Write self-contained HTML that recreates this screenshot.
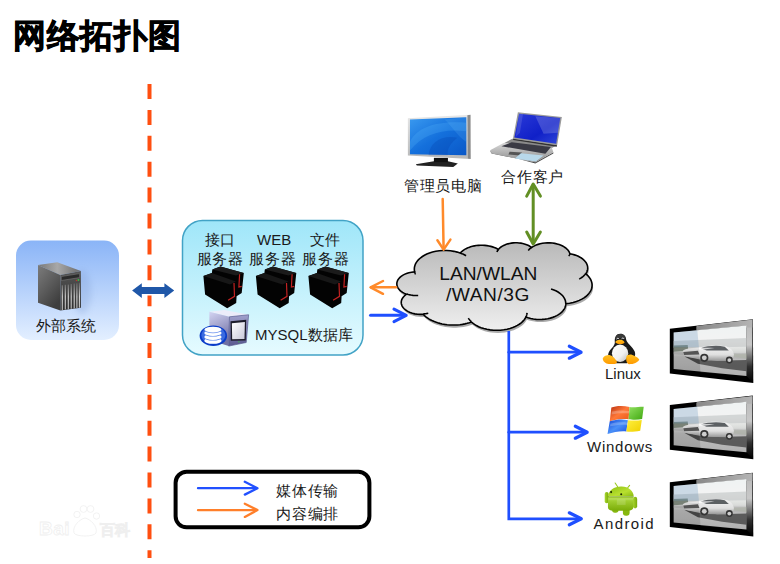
<!DOCTYPE html>
<html><head><meta charset="utf-8">
<style>
html,body{margin:0;padding:0;background:#fff;}
body{width:780px;height:564px;position:relative;overflow:hidden;font-family:"Liberation Sans",sans-serif;}
.t{position:absolute;white-space:nowrap;color:#1a1a1a;line-height:1;}
svg{position:absolute;left:0;top:0;}
</style></head><body>
<svg width="780" height="564" viewBox="0 0 780 564">
<defs>
<linearGradient id="gExt" x1="0" y1="0" x2="0" y2="1"><stop offset="0" stop-color="#8ab4f7"/><stop offset="1" stop-color="#e3efff"/></linearGradient>
<linearGradient id="gSrv" x1="0" y1="0" x2="0" y2="1"><stop offset="0" stop-color="#9fe6f9"/><stop offset="1" stop-color="#e6fbff"/></linearGradient>
<linearGradient id="gCloud" x1="0" y1="0" x2="0" y2="1"><stop offset="0" stop-color="#b9b9b9"/><stop offset="1" stop-color="#efefef"/></linearGradient>
<linearGradient id="gSrvL" x1="0" y1="0" x2="0.6" y2="1"><stop offset="0" stop-color="#7c7c7c"/><stop offset="0.5" stop-color="#5e5e5e"/><stop offset="1" stop-color="#3e3e3e"/></linearGradient>
<linearGradient id="gSrvF" x1="0" y1="0" x2="0" y2="1"><stop offset="0" stop-color="#555"/><stop offset="1" stop-color="#2e2e2e"/></linearGradient>
<linearGradient id="gSrvTop" x1="0" y1="0" x2="1" y2="0"><stop offset="0" stop-color="#777"/><stop offset="0.45" stop-color="#a8a8a8"/><stop offset="1" stop-color="#6a6a6a"/></linearGradient>
<linearGradient id="gDbL" x1="0" y1="0" x2="0.3" y2="1"><stop offset="0" stop-color="#d4d4f2"/><stop offset="1" stop-color="#7070a4"/></linearGradient>
<linearGradient id="gDbF" x1="0" y1="0" x2="0" y2="1"><stop offset="0" stop-color="#a0a0cc"/><stop offset="1" stop-color="#5a5a90"/></linearGradient>
<linearGradient id="gDbS" x1="0" y1="0" x2="1" y2="1"><stop offset="0" stop-color="#fff"/><stop offset="1" stop-color="#c8c8d8"/></linearGradient>
<linearGradient id="gMonF" x1="0" y1="0" x2="0" y2="1"><stop offset="0" stop-color="#e8e8e8"/><stop offset="1" stop-color="#b8b8b8"/></linearGradient>
<linearGradient id="gMonS" x1="0" y1="0" x2="1" y2="1"><stop offset="0" stop-color="#3a9af0"/><stop offset="0.5" stop-color="#1470dc"/><stop offset="1" stop-color="#0a58c8"/></linearGradient>
<linearGradient id="gLapB" x1="0" y1="0" x2="0" y2="1"><stop offset="0" stop-color="#d8d8d8"/><stop offset="1" stop-color="#8a8a8a"/></linearGradient>
<linearGradient id="gLapS" x1="0" y1="0" x2="1" y2="1"><stop offset="0" stop-color="#2a3ad8"/><stop offset="0.6" stop-color="#1020c8"/><stop offset="1" stop-color="#3048d8"/></linearGradient>
<linearGradient id="gTvR" x1="0" y1="0" x2="0" y2="1"><stop offset="0" stop-color="#b8b8b8"/><stop offset="0.4" stop-color="#c8c8c8"/><stop offset="0.75" stop-color="#303030"/><stop offset="1" stop-color="#000"/></linearGradient>
<linearGradient id="gTvTop" x1="0" y1="0" x2="1" y2="0"><stop offset="0" stop-color="#888"/><stop offset="1" stop-color="#b4b4b4"/></linearGradient>
<linearGradient id="gCar" x1="0" y1="0" x2="0" y2="1"><stop offset="0" stop-color="#f4f4f4"/><stop offset="0.6" stop-color="#dcdcdc"/><stop offset="1" stop-color="#8a8a8a"/></linearGradient>
<linearGradient id="gTvS" x1="0" y1="0" x2="0" y2="1"><stop offset="0" stop-color="#eef2f2"/><stop offset="0.3" stop-color="#f2f2f2"/><stop offset="0.5" stop-color="#d8dad8"/><stop offset="0.62" stop-color="#b8b8b8"/><stop offset="1" stop-color="#a8a8a8"/></linearGradient>
<linearGradient id="gTuxB" x1="0" y1="0" x2="1" y2="1"><stop offset="0" stop-color="#fff"/><stop offset="0.6" stop-color="#f0f0f0"/><stop offset="1" stop-color="#b8b8b8"/></linearGradient>
<linearGradient id="gTuxY" x1="0" y1="0" x2="0" y2="1"><stop offset="0" stop-color="#ffc020"/><stop offset="1" stop-color="#ff9a00"/></linearGradient>
<linearGradient id="gWR" x1="0" y1="0" x2="1" y2="1"><stop offset="0" stop-color="#b83010"/><stop offset="0.5" stop-color="#ff7838"/><stop offset="1" stop-color="#e85a18"/></linearGradient>
<linearGradient id="gWG" x1="0" y1="0" x2="1" y2="1"><stop offset="0" stop-color="#90e060"/><stop offset="1" stop-color="#40a810"/></linearGradient>
<linearGradient id="gWB" x1="0" y1="0" x2="1" y2="1"><stop offset="0" stop-color="#1448d8"/><stop offset="0.5" stop-color="#4a90f8"/><stop offset="1" stop-color="#1850e0"/></linearGradient>
<linearGradient id="gWY" x1="0" y1="0" x2="1" y2="1"><stop offset="0" stop-color="#fff040"/><stop offset="1" stop-color="#f0d000"/></linearGradient>
<linearGradient id="gAnd" x1="0" y1="0" x2="1" y2="0"><stop offset="0" stop-color="#a8d830"/><stop offset="1" stop-color="#78a808"/></linearGradient>
<linearGradient id="gAndB" x1="0" y1="0" x2="0" y2="1"><stop offset="0" stop-color="#b0dc40"/><stop offset="1" stop-color="#7aac08"/></linearGradient>
<linearGradient id="gAndH" x1="0" y1="0" x2="1" y2="1"><stop offset="0" stop-color="#8cc010"/><stop offset="0.6" stop-color="#b8e030"/><stop offset="1" stop-color="#88b810"/></linearGradient>
<filter id="blur05" x="-10%" y="-10%" width="120%" height="120%"><feGaussianBlur stdDeviation="0.6"/></filter>
<linearGradient id="gVent" gradientUnits="userSpaceOnUse" x1="0" y1="283" x2="0" y2="310"><stop offset="0" stop-color="#666"/><stop offset="0.5" stop-color="#d8d8d8"/><stop offset="1" stop-color="#bbb"/></linearGradient>
<filter id="blur2" x="-50%" y="-50%" width="200%" height="200%"><feGaussianBlur stdDeviation="3"/></filter>
</defs>
<!-- watermark -->
<g fill="#fff" stroke="#efefef" stroke-width="0.8">
<text x="39" y="535" font-family="Liberation Sans" font-weight="bold" font-size="19" letter-spacing="0.5">Bai</text>
<circle cx="77" cy="514.5" r="3.2"/><circle cx="83.5" cy="509" r="3.4"/><circle cx="90.5" cy="509" r="3.4"/><circle cx="96.5" cy="516" r="3.2"/>
<path d="M74,533 C72,526 80,519 85,518 C90,519 98,526 96,533 C94,537 76,537 74,533 Z"/>
<text x="100" y="535" font-size="15" font-weight="bold">百科</text>
</g>
<!-- dashed line -->
<line x1="149.5" y1="84" x2="149.5" y2="558" stroke="#ff4f10" stroke-width="4" stroke-dasharray="15 10.9"/>
<!-- external box -->
<rect x="16" y="240.5" width="103" height="99.5" rx="15" fill="url(#gExt)"/>
<!-- external server -->
<ellipse cx="82" cy="292" rx="9" ry="22" fill="#6f8fc8" opacity="0.25" filter="url(#blur2)"/>
<polygon points="38,265 57.3,262.2 80.9,270.9 60.3,275" fill="url(#gSrvTop)"/>
<polygon points="38,265 60.3,275 60.3,310.6 38,302.7" fill="url(#gSrvL)"/>
<polygon points="60.3,275 80.9,270.9 80.9,307.7 60.3,310.6" fill="url(#gSrvF)"/>
<polygon points="61.3,276.5 79.6,273.6 79.6,277.6 61.3,280.5" fill="#2b2b2b" stroke="#777" stroke-width="0.6"/>
<circle cx="76.5" cy="280.5" r="0.8" fill="#c03030"/><circle cx="78.4" cy="280" r="0.9" fill="#30c040"/>
<g stroke="url(#gVent)" stroke-width="1.1">
<line x1="62.3" y1="285.2" x2="62.3" y2="310"/><line x1="65.3" y1="284.8" x2="65.3" y2="309.6"/><line x1="68.3" y1="284.4" x2="68.3" y2="309.2"/><line x1="71.2" y1="284" x2="71.2" y2="308.8"/><line x1="74.2" y1="283.6" x2="74.2" y2="308.4"/><line x1="76.9" y1="283.2" x2="76.9" y2="308"/><line x1="79.4" y1="282.8" x2="79.4" y2="307.7"/>
</g>
<!-- double arrow -->
<polygon points="132.1,290.4 141.8,283.3 141.8,286.9 164.4,286.9 164.4,283.3 174.2,290.4 164.4,298 164.4,294 141.8,294 141.8,298" fill="#1f57a8" stroke="#fff" stroke-width="3" paint-order="stroke"/>
<!-- server group box -->
<rect x="182.5" y="220.5" width="180.5" height="134.5" rx="20" fill="url(#gSrv)" stroke="#42a3c6" stroke-width="1.5"/>
<g transform="translate(200,264)">
<polygon points="3.4,11.9 11.9,8.9 12.3,5.5 20.4,2.6 43.8,8.9 41.7,28.9 36.6,32.3 36.2,39.1 27.2,44.3 5.1,30.6" fill="#030303"/>
<polygon points="12.3,5.5 20.4,2.6 43.8,8.9 36,11.5" fill="#1b1b1b"/>
<polygon points="3.4,11.9 11.9,8.9 36,17.5 30,20.5" fill="#171717"/>
<polyline points="39.6,10.2 38.9,23 41.7,22.3" fill="none" stroke="#c42222" stroke-width="1.2"/>
<polyline points="34,19.1 34.5,32.3 28.1,36.2" fill="none" stroke="#c42222" stroke-width="1.2"/>
</g>
<g transform="translate(252.5,264)">
<polygon points="3.4,11.9 11.9,8.9 12.3,5.5 20.4,2.6 43.8,8.9 41.7,28.9 36.6,32.3 36.2,39.1 27.2,44.3 5.1,30.6" fill="#030303"/>
<polygon points="12.3,5.5 20.4,2.6 43.8,8.9 36,11.5" fill="#1b1b1b"/>
<polygon points="3.4,11.9 11.9,8.9 36,17.5 30,20.5" fill="#171717"/>
<polyline points="39.6,10.2 38.9,23 41.7,22.3" fill="none" stroke="#c42222" stroke-width="1.2"/>
<polyline points="34,19.1 34.5,32.3 28.1,36.2" fill="none" stroke="#c42222" stroke-width="1.2"/>
</g>
<g transform="translate(305,264)">
<polygon points="3.4,11.9 11.9,8.9 12.3,5.5 20.4,2.6 43.8,8.9 41.7,28.9 36.6,32.3 36.2,39.1 27.2,44.3 5.1,30.6" fill="#030303"/>
<polygon points="12.3,5.5 20.4,2.6 43.8,8.9 36,11.5" fill="#1b1b1b"/>
<polygon points="3.4,11.9 11.9,8.9 36,17.5 30,20.5" fill="#171717"/>
<polyline points="39.6,10.2 38.9,23 41.7,22.3" fill="none" stroke="#c42222" stroke-width="1.2"/>
<polyline points="34,19.1 34.5,32.3 28.1,36.2" fill="none" stroke="#c42222" stroke-width="1.2"/>
</g>
<!-- mysql icon -->
<g transform="translate(195,305) scale(0.0798)">
<polygon points="180,85 370,62 672,122 432,148" fill="#ececfa"/>
<polygon points="180,85 432,148 422,515 180,440" fill="url(#gDbL)"/>
<polygon points="432,148 672,122 642,470 422,515" fill="url(#gDbF)" stroke="#55558a" stroke-width="8"/>
<polygon points="445,205 642,185 636,445 448,448" fill="#1c1c2a"/>
<polygon points="462,228 625,212 620,425 466,428" fill="url(#gDbS)"/>
<circle cx="550" cy="462" r="9" fill="#3c3"/>
<ellipse cx="230" cy="385" rx="172" ry="128" fill="#0a3cc8"/>
<ellipse cx="230" cy="380" rx="150" ry="108" fill="#3a6ae0"/>
<ellipse cx="225" cy="448" rx="108" ry="38" fill="#fff"/>
<ellipse cx="225" cy="408" rx="108" ry="38" fill="#4a7ae8"/>
<ellipse cx="225" cy="400" rx="108" ry="38" fill="#fff"/>
<ellipse cx="225" cy="358" rx="108" ry="38" fill="#4a7ae8"/>
<ellipse cx="225" cy="350" rx="108" ry="38" fill="#fff"/>
<ellipse cx="225" cy="316" rx="108" ry="38" fill="#6a90ee"/>
<ellipse cx="225" cy="308" rx="106" ry="36" fill="#fff"/>
</g>
<!-- monitor -->
<g transform="translate(402,110) scale(0.10633)">
<polygon points="130,510 300,482 432,482 525,503 482,535 140,522" fill="#222"/>
<polygon points="300,450 432,450 432,490 300,490" fill="#111"/>
<polygon points="55,78 640,45 645,460 55,428" fill="url(#gMonF)"/>
<polygon points="615,50 645,45 645,460 620,455" fill="#8a8a8a"/>
<polygon points="75,90 605,68 605,425 75,415" fill="url(#gMonS)"/>
<path d="M75,300 C150,150 350,100 605,120 L605,200 C400,170 200,220 75,380 Z" fill="#60c0ff" opacity="0.22"/>
<path d="M250,425 C260,300 380,230 520,260 C470,300 420,360 430,425 Z" fill="#003ca8" opacity="0.25"/>
<path d="M400,90 C470,150 520,250 605,300 L605,68 Z" fill="#80d0ff" opacity="0.15"/>
</g>
<!-- laptop -->
<g transform="translate(486,108) scale(0.1028)">
<polygon points="255,300 690,362 640,388 170,345" fill="#8a8a8a"/>
<polygon points="40,420 480,540 655,442 655,430 480,528 55,442" fill="#505050"/>
<polygon points="40,410 170,340 640,385 655,430 480,528 55,442" fill="url(#gLapB)"/>
<polygon points="150,372 250,334 632,380 578,445" fill="#3a3a44"/>
<polygon points="230,425 350,433 330,462 218,452" fill="#555"/>
<polygon points="340,440 560,462 485,520 280,492" fill="#b8d8ea"/>
<polygon points="310,42 738,88 692,362 262,298" fill="#9a9a9a"/>
<polygon points="262,298 692,362 688,378 265,312" fill="#333"/>
<polygon points="322,55 722,98 682,348 276,286" fill="url(#gLapS)"/>
<polygon points="480,80 722,98 700,240 560,250" fill="#fff" opacity="0.18"/>
<polygon points="322,55 360,58 330,240 290,280" fill="#fff" opacity="0.12"/>
</g>
<!-- cloud -->
<path d="M414.60 271.61 L414.40 270.37 L414.33 269.14 L414.39 267.91 L414.59 266.67 L414.92 265.43 L415.41 264.18 L416.06 262.91 L416.88 261.64 L417.90 260.35 L419.14 259.05 L420.63 257.76 L422.38 256.49 L424.43 255.25 L426.80 254.08 L429.49 253.00 L432.50 252.07 L435.80 251.31 L439.33 250.79 L443.00 250.52 L446.73 250.52 L450.41 250.80 L453.93 251.34 L457.22 252.10 L460.22 253.04 L460.91 252.29 L461.70 251.55 L462.60 250.81 L463.61 250.08 L464.74 249.36 L466.01 248.66 L467.40 248.00 L468.94 247.38 L470.61 246.81 L472.40 246.31 L474.32 245.89 L476.33 245.56 L478.41 245.34 L480.54 245.23 L482.69 245.24 L484.81 245.36 L486.89 245.60 L488.89 245.94 L490.79 246.37 L492.57 246.88 L494.22 247.45 L495.74 248.08 L497.12 248.75 L498.36 249.45 L498.96 248.78 L499.65 248.10 L500.44 247.43 L501.35 246.77 L502.39 246.12 L503.55 245.49 L504.85 244.90 L506.29 244.35 L507.86 243.86 L509.55 243.45 L511.35 243.12 L513.23 242.90 L515.16 242.80 L517.10 242.80 L519.03 242.93 L520.89 243.16 L522.68 243.50 L524.35 243.92 L525.91 244.42 L527.32 244.97 L528.61 245.57 L529.75 246.21 L530.77 246.86 L531.66 247.52 L532.96 246.67 L534.46 245.85 L536.16 245.07 L538.07 244.38 L540.18 243.78 L542.46 243.30 L544.89 242.98 L547.40 242.82 L549.93 242.84 L552.43 243.03 L554.83 243.39 L557.08 243.90 L559.14 244.52 L561.01 245.24 L562.66 246.02 L564.11 246.86 L565.37 247.72 L566.45 248.59 L567.36 249.47 L568.12 250.35 L568.76 251.22 L569.27 252.09 L569.66 252.94 L569.96 253.79 L572.32 254.27 L574.52 254.87 L576.52 255.56 L578.33 256.34 L579.94 257.17 L581.35 258.03 L582.59 258.92 L583.65 259.82 L584.56 260.72 L585.33 261.62 L585.97 262.51 L586.50 263.40 L586.93 264.28 L587.25 265.15 L587.49 266.01 L587.64 266.87 L587.71 267.73 L587.69 268.58 L587.60 269.44 L587.42 270.30 L587.15 271.17 L586.79 272.04 L586.33 272.92 L585.76 273.81 L587.32 275.18 L588.62 276.54 L589.67 277.90 L590.50 279.24 L591.14 280.58 L591.61 281.90 L591.92 283.20 L592.07 284.51 L592.07 285.81 L591.93 287.11 L591.63 288.42 L591.17 289.74 L590.54 291.07 L589.71 292.41 L588.67 293.77 L587.39 295.14 L585.85 296.50 L584.00 297.84 L581.82 299.15 L579.29 300.38 L576.40 301.50 L573.17 302.45 L569.62 303.19 L565.84 303.68 L565.78 304.65 L565.62 305.62 L565.36 306.60 L564.99 307.59 L564.50 308.59 L563.89 309.59 L563.14 310.60 L562.24 311.62 L561.17 312.64 L559.91 313.66 L558.45 314.65 L556.77 315.62 L554.86 316.53 L552.71 317.37 L550.34 318.11 L547.75 318.71 L544.99 319.15 L542.11 319.42 L539.17 319.48 L536.24 319.34 L533.40 319.01 L530.70 318.50 L528.19 317.84 L525.90 317.06 L525.24 318.25 L524.43 319.44 L523.44 320.64 L522.26 321.84 L520.87 323.05 L519.24 324.24 L517.35 325.40 L515.19 326.51 L512.75 327.53 L510.03 328.45 L507.04 329.22 L503.83 329.81 L500.46 330.18 L496.99 330.32 L493.52 330.22 L490.13 329.88 L486.89 329.32 L483.87 328.58 L481.10 327.68 L478.62 326.67 L476.42 325.57 L474.49 324.42 L472.82 323.23 L471.39 322.03 L469.35 322.72 L467.18 323.35 L464.89 323.89 L462.49 324.35 L459.99 324.70 L457.43 324.94 L454.83 325.06 L452.21 325.07 L449.60 324.95 L447.04 324.72 L444.54 324.37 L442.13 323.93 L439.83 323.39 L437.65 322.76 L435.61 322.07 L433.70 321.32 L431.93 320.53 L430.30 319.70 L428.81 318.83 L427.45 317.95 L426.22 317.06 L425.10 316.16 L424.10 315.25 L423.20 314.34 L420.36 314.42 L417.54 314.25 L414.85 313.84 L412.38 313.24 L410.17 312.48 L408.25 311.62 L406.63 310.68 L405.27 309.71 L404.15 308.73 L403.26 307.74 L402.55 306.76 L402.01 305.79 L401.62 304.83 L401.37 303.88 L401.25 302.94 L401.24 301.99 L401.36 301.05 L401.61 300.10 L401.99 299.14 L402.52 298.17 L403.21 297.19 L404.10 296.21 L405.20 295.22 L406.54 294.25 L404.44 293.37 L402.65 292.41 L401.17 291.41 L399.97 290.38 L399.00 289.35 L398.24 288.33 L397.67 287.32 L397.26 286.32 L396.99 285.34 L396.86 284.36 L396.85 283.38 L396.98 282.41 L397.24 281.42 L397.65 280.42 L398.22 279.42 L398.97 278.39 L399.93 277.37 L401.13 276.34 L402.60 275.33 L404.38 274.37 L406.47 273.49 L408.87 272.75 L411.56 272.20 L414.44 271.88 Z" fill="#666" opacity="0.55" transform="translate(1,2.6)" filter="url(#blur05)"/>
<path d="M414.60 271.61 L414.40 270.37 L414.33 269.14 L414.39 267.91 L414.59 266.67 L414.92 265.43 L415.41 264.18 L416.06 262.91 L416.88 261.64 L417.90 260.35 L419.14 259.05 L420.63 257.76 L422.38 256.49 L424.43 255.25 L426.80 254.08 L429.49 253.00 L432.50 252.07 L435.80 251.31 L439.33 250.79 L443.00 250.52 L446.73 250.52 L450.41 250.80 L453.93 251.34 L457.22 252.10 L460.22 253.04 L460.91 252.29 L461.70 251.55 L462.60 250.81 L463.61 250.08 L464.74 249.36 L466.01 248.66 L467.40 248.00 L468.94 247.38 L470.61 246.81 L472.40 246.31 L474.32 245.89 L476.33 245.56 L478.41 245.34 L480.54 245.23 L482.69 245.24 L484.81 245.36 L486.89 245.60 L488.89 245.94 L490.79 246.37 L492.57 246.88 L494.22 247.45 L495.74 248.08 L497.12 248.75 L498.36 249.45 L498.96 248.78 L499.65 248.10 L500.44 247.43 L501.35 246.77 L502.39 246.12 L503.55 245.49 L504.85 244.90 L506.29 244.35 L507.86 243.86 L509.55 243.45 L511.35 243.12 L513.23 242.90 L515.16 242.80 L517.10 242.80 L519.03 242.93 L520.89 243.16 L522.68 243.50 L524.35 243.92 L525.91 244.42 L527.32 244.97 L528.61 245.57 L529.75 246.21 L530.77 246.86 L531.66 247.52 L532.96 246.67 L534.46 245.85 L536.16 245.07 L538.07 244.38 L540.18 243.78 L542.46 243.30 L544.89 242.98 L547.40 242.82 L549.93 242.84 L552.43 243.03 L554.83 243.39 L557.08 243.90 L559.14 244.52 L561.01 245.24 L562.66 246.02 L564.11 246.86 L565.37 247.72 L566.45 248.59 L567.36 249.47 L568.12 250.35 L568.76 251.22 L569.27 252.09 L569.66 252.94 L569.96 253.79 L572.32 254.27 L574.52 254.87 L576.52 255.56 L578.33 256.34 L579.94 257.17 L581.35 258.03 L582.59 258.92 L583.65 259.82 L584.56 260.72 L585.33 261.62 L585.97 262.51 L586.50 263.40 L586.93 264.28 L587.25 265.15 L587.49 266.01 L587.64 266.87 L587.71 267.73 L587.69 268.58 L587.60 269.44 L587.42 270.30 L587.15 271.17 L586.79 272.04 L586.33 272.92 L585.76 273.81 L587.32 275.18 L588.62 276.54 L589.67 277.90 L590.50 279.24 L591.14 280.58 L591.61 281.90 L591.92 283.20 L592.07 284.51 L592.07 285.81 L591.93 287.11 L591.63 288.42 L591.17 289.74 L590.54 291.07 L589.71 292.41 L588.67 293.77 L587.39 295.14 L585.85 296.50 L584.00 297.84 L581.82 299.15 L579.29 300.38 L576.40 301.50 L573.17 302.45 L569.62 303.19 L565.84 303.68 L565.78 304.65 L565.62 305.62 L565.36 306.60 L564.99 307.59 L564.50 308.59 L563.89 309.59 L563.14 310.60 L562.24 311.62 L561.17 312.64 L559.91 313.66 L558.45 314.65 L556.77 315.62 L554.86 316.53 L552.71 317.37 L550.34 318.11 L547.75 318.71 L544.99 319.15 L542.11 319.42 L539.17 319.48 L536.24 319.34 L533.40 319.01 L530.70 318.50 L528.19 317.84 L525.90 317.06 L525.24 318.25 L524.43 319.44 L523.44 320.64 L522.26 321.84 L520.87 323.05 L519.24 324.24 L517.35 325.40 L515.19 326.51 L512.75 327.53 L510.03 328.45 L507.04 329.22 L503.83 329.81 L500.46 330.18 L496.99 330.32 L493.52 330.22 L490.13 329.88 L486.89 329.32 L483.87 328.58 L481.10 327.68 L478.62 326.67 L476.42 325.57 L474.49 324.42 L472.82 323.23 L471.39 322.03 L469.35 322.72 L467.18 323.35 L464.89 323.89 L462.49 324.35 L459.99 324.70 L457.43 324.94 L454.83 325.06 L452.21 325.07 L449.60 324.95 L447.04 324.72 L444.54 324.37 L442.13 323.93 L439.83 323.39 L437.65 322.76 L435.61 322.07 L433.70 321.32 L431.93 320.53 L430.30 319.70 L428.81 318.83 L427.45 317.95 L426.22 317.06 L425.10 316.16 L424.10 315.25 L423.20 314.34 L420.36 314.42 L417.54 314.25 L414.85 313.84 L412.38 313.24 L410.17 312.48 L408.25 311.62 L406.63 310.68 L405.27 309.71 L404.15 308.73 L403.26 307.74 L402.55 306.76 L402.01 305.79 L401.62 304.83 L401.37 303.88 L401.25 302.94 L401.24 301.99 L401.36 301.05 L401.61 300.10 L401.99 299.14 L402.52 298.17 L403.21 297.19 L404.10 296.21 L405.20 295.22 L406.54 294.25 L404.44 293.37 L402.65 292.41 L401.17 291.41 L399.97 290.38 L399.00 289.35 L398.24 288.33 L397.67 287.32 L397.26 286.32 L396.99 285.34 L396.86 284.36 L396.85 283.38 L396.98 282.41 L397.24 281.42 L397.65 280.42 L398.22 279.42 L398.97 278.39 L399.93 277.37 L401.13 276.34 L402.60 275.33 L404.38 274.37 L406.47 273.49 L408.87 272.75 L411.56 272.20 L414.44 271.88 Z" fill="url(#gCloud)" stroke="#000" stroke-width="1.6"/>
<path d="M418.18 295.52 L417.16 295.55 L416.12 295.55 L415.10 295.52 L414.08 295.45 L413.07 295.35 L412.08 295.22 L411.11 295.07 L410.18 294.88 L409.27 294.67 L408.39 294.43 L407.55 294.18 L406.75 293.91 M428.27 313.19 L427.88 313.28 L427.49 313.37 L427.08 313.45 L426.68 313.53 L426.27 313.60 L425.85 313.67 L425.43 313.73 L425.00 313.79 L424.57 313.84 L424.14 313.88 L423.71 313.92 L423.27 313.96 M471.38 321.68 L471.06 321.38 L470.76 321.09 L470.47 320.79 L470.19 320.50 L469.93 320.20 L469.67 319.91 L469.43 319.61 L469.19 319.32 L468.97 319.03 L468.76 318.73 L468.56 318.44 L468.37 318.15 M527.12 312.89 L527.07 313.21 L527.02 313.53 L526.95 313.85 L526.88 314.17 L526.79 314.49 L526.70 314.81 L526.59 315.13 L526.48 315.45 L526.35 315.78 L526.22 316.10 L526.07 316.43 L525.92 316.75 M551.05 288.99 L553.88 289.97 L556.35 291.08 L558.45 292.28 L560.22 293.52 L561.68 294.79 L562.87 296.06 L563.81 297.32 L564.54 298.57 L565.09 299.80 L565.46 301.02 L565.67 302.24 L565.73 303.45 M585.67 273.60 L585.34 274.05 L584.97 274.51 L584.57 274.97 L584.14 275.43 L583.66 275.89 L583.15 276.34 L582.59 276.80 L582.00 277.26 L581.35 277.71 L580.66 278.15 L579.92 278.59 L579.14 279.02 M569.99 253.49 L569.92 253.71 L569.85 253.92 L569.77 254.14 L569.69 254.35 L569.59 254.57 L569.50 254.79 L569.39 255.00 L569.28 255.22 L569.16 255.44 L569.03 255.66 L568.90 255.88 L568.76 256.10 M528.25 250.50 L528.46 250.23 L528.67 249.96 L528.90 249.69 L529.14 249.42 L529.39 249.14 L529.66 248.87 L529.95 248.60 L530.24 248.32 L530.56 248.05 L530.89 247.78 L531.24 247.51 L531.60 247.24 M496.94 252.06 L497.03 251.83 L497.12 251.60 L497.23 251.36 L497.34 251.13 L497.46 250.90 L497.59 250.66 L497.72 250.43 L497.87 250.19 L498.03 249.96 L498.20 249.72 L498.38 249.48 L498.56 249.24 M460.19 253.02 L460.75 253.22 L461.30 253.43 L461.83 253.65 L462.36 253.87 L462.86 254.09 L463.36 254.32 L463.84 254.55 L464.31 254.78 L464.77 255.02 L465.21 255.26 L465.64 255.50 L466.06 255.75 M415.63 274.48 L415.51 274.24 L415.40 274.00 L415.30 273.76 L415.20 273.52 L415.10 273.28 L415.02 273.04 L414.93 272.80 L414.86 272.56 L414.79 272.32 L414.72 272.08 L414.66 271.84 L414.60 271.61 " fill="none" stroke="#000" stroke-width="1.6"/>
<!-- arrows around cloud -->
<g fill="none" stroke-linecap="round" stroke-linejoin="round">
<g stroke="#ff8a2a" stroke-width="2.5">
<line x1="442.7" y1="199" x2="443.6" y2="249"/><polyline points="437.4,240.2 443.6,249.6 450.4,239.6"/>
<line x1="396" y1="287.3" x2="371" y2="287.3"/><polyline points="383,281 370.6,287.3 383,293.8"/>
</g>
<g stroke="#628f24" stroke-width="3">
<line x1="533.2" y1="185" x2="533.2" y2="243"/><polyline points="526.7,196.1 533.2,184 540.4,196.1"/><polyline points="526.7,232 533.2,244 540.4,232"/>
</g>
<g stroke="#1f4fff" stroke-width="3">
<line x1="370.6" y1="315.3" x2="405" y2="315.3" stroke-width="3.1"/><polyline points="394,309.2 406.2,315.3 394,321.6" stroke-width="3.1"/>
<polyline points="508.8,331 508.8,518.8 580,518.8" stroke-linecap="butt" stroke-linejoin="miter" stroke-width="2.7"/><polyline points="569.3,512.8 581.3,518.8 569.3,524.8" stroke-width="3.2"/>
<line x1="508.8" y1="352.2" x2="580" y2="352.2" stroke-width="2.7"/><polyline points="569.3,346.2 581.1,352.2 569.3,358.2" stroke-width="3.2"/>
<line x1="508.8" y1="432.2" x2="586" y2="432.2" stroke-width="2.7"/><polyline points="575.3,426.2 587.2,432.2 575.3,438.2" stroke-width="3.2"/>
</g>
</g>
<!-- legend -->
<rect x="175.6" y="471.8" width="193.8" height="55.5" rx="11" fill="#fff" stroke="#000" stroke-width="4"/>
<g fill="none" stroke-linecap="round" stroke-linejoin="round" stroke-width="2.3">
<g stroke="#2150ff"><line x1="198" y1="488.2" x2="256" y2="488.2"/><polyline points="244.8,481.8 257.5,488.2 244.8,494.6"/></g>
<g stroke="#ff7f2a"><line x1="198" y1="510.2" x2="256" y2="510.2"/><polyline points="244.8,503.7 257.5,510.1 244.8,516.9"/></g>
</g>
<!-- TVs -->
<g transform="translate(666,316) scale(0.12766)">
<polygon points="30,100 680,25 684,525 30,450" fill="#000"/>
<polygon points="240,80 676,30 678,518 630,470 630,75 240,112" fill="url(#gTvR)"/>
<polygon points="240,80 676,30 676,90 630,90 630,75 240,112" fill="url(#gTvTop)"/>
<polygon points="60,130 630,75 630,470 60,415" fill="url(#gTvS)"/>
<polygon points="60,195 630,172 630,240 60,250" fill="#c0c4c4" opacity="0.7"/>
<polygon points="60,232 170,228 175,272 60,280" fill="#4a5846" opacity="0.6"/>
<polygon points="520,300 630,295 630,335 520,320" fill="#9aa880" opacity="0.5"/>
<polygon points="60,282 630,292 630,340 60,300" fill="#a8a8a8" opacity="0.6"/>
<polygon points="145,318 400,350 630,345 630,432 440,410 250,375" fill="#2e2e2e" opacity="0.8"/>
<path d="M132,272 C150,252 210,250 280,242 C330,230 410,225 475,238 C510,250 528,272 532,300 L528,332 L505,352 L300,348 L175,322 L136,305 Z" fill="url(#gCar)"/>
<path d="M272,252 C322,234 400,228 460,240 L492,270 L318,270 Z" fill="#4a4e52"/>
<path d="M135,282 L250,272 L262,302 L140,306 Z" fill="#5c5c5c"/>
<path d="M160,262 C220,250 300,245 380,250 L300,262 Z" fill="#fff" opacity="0.7"/>
<circle cx="300" cy="328" r="32" fill="#1e1e1e"/><circle cx="300" cy="328" r="19" fill="#c8c8c8"/>
<circle cx="496" cy="345" r="27" fill="#1e1e1e"/><circle cx="496" cy="345" r="15" fill="#c8c8c8"/>
<polygon points="245,110 630,75 630,470 270,440" fill="#fff" opacity="0.1"/>
<polygon points="60,130 245,112 258,245 60,245" fill="#5a90c0" opacity="0.25"/>
<polygon points="60,245 258,245 270,440 60,415" fill="#000" opacity="0.08"/>
</g>
<g transform="translate(666,392.3) scale(0.12766)">
<polygon points="30,100 680,25 684,525 30,450" fill="#000"/>
<polygon points="240,80 676,30 678,518 630,470 630,75 240,112" fill="url(#gTvR)"/>
<polygon points="240,80 676,30 676,90 630,90 630,75 240,112" fill="url(#gTvTop)"/>
<polygon points="60,130 630,75 630,470 60,415" fill="url(#gTvS)"/>
<polygon points="60,195 630,172 630,240 60,250" fill="#c0c4c4" opacity="0.7"/>
<polygon points="60,232 170,228 175,272 60,280" fill="#4a5846" opacity="0.6"/>
<polygon points="520,300 630,295 630,335 520,320" fill="#9aa880" opacity="0.5"/>
<polygon points="60,282 630,292 630,340 60,300" fill="#a8a8a8" opacity="0.6"/>
<polygon points="145,318 400,350 630,345 630,432 440,410 250,375" fill="#2e2e2e" opacity="0.8"/>
<path d="M132,272 C150,252 210,250 280,242 C330,230 410,225 475,238 C510,250 528,272 532,300 L528,332 L505,352 L300,348 L175,322 L136,305 Z" fill="url(#gCar)"/>
<path d="M272,252 C322,234 400,228 460,240 L492,270 L318,270 Z" fill="#4a4e52"/>
<path d="M135,282 L250,272 L262,302 L140,306 Z" fill="#5c5c5c"/>
<path d="M160,262 C220,250 300,245 380,250 L300,262 Z" fill="#fff" opacity="0.7"/>
<circle cx="300" cy="328" r="32" fill="#1e1e1e"/><circle cx="300" cy="328" r="19" fill="#c8c8c8"/>
<circle cx="496" cy="345" r="27" fill="#1e1e1e"/><circle cx="496" cy="345" r="15" fill="#c8c8c8"/>
<polygon points="245,110 630,75 630,470 270,440" fill="#fff" opacity="0.1"/>
<polygon points="60,130 245,112 258,245 60,245" fill="#5a90c0" opacity="0.25"/>
<polygon points="60,245 258,245 270,440 60,415" fill="#000" opacity="0.08"/>
</g>
<g transform="translate(666,469.5) scale(0.12766)">
<polygon points="30,100 680,25 684,525 30,450" fill="#000"/>
<polygon points="240,80 676,30 678,518 630,470 630,75 240,112" fill="url(#gTvR)"/>
<polygon points="240,80 676,30 676,90 630,90 630,75 240,112" fill="url(#gTvTop)"/>
<polygon points="60,130 630,75 630,470 60,415" fill="url(#gTvS)"/>
<polygon points="60,195 630,172 630,240 60,250" fill="#c0c4c4" opacity="0.7"/>
<polygon points="60,232 170,228 175,272 60,280" fill="#4a5846" opacity="0.6"/>
<polygon points="520,300 630,295 630,335 520,320" fill="#9aa880" opacity="0.5"/>
<polygon points="60,282 630,292 630,340 60,300" fill="#a8a8a8" opacity="0.6"/>
<polygon points="145,318 400,350 630,345 630,432 440,410 250,375" fill="#2e2e2e" opacity="0.8"/>
<path d="M132,272 C150,252 210,250 280,242 C330,230 410,225 475,238 C510,250 528,272 532,300 L528,332 L505,352 L300,348 L175,322 L136,305 Z" fill="url(#gCar)"/>
<path d="M272,252 C322,234 400,228 460,240 L492,270 L318,270 Z" fill="#4a4e52"/>
<path d="M135,282 L250,272 L262,302 L140,306 Z" fill="#5c5c5c"/>
<path d="M160,262 C220,250 300,245 380,250 L300,262 Z" fill="#fff" opacity="0.7"/>
<circle cx="300" cy="328" r="32" fill="#1e1e1e"/><circle cx="300" cy="328" r="19" fill="#c8c8c8"/>
<circle cx="496" cy="345" r="27" fill="#1e1e1e"/><circle cx="496" cy="345" r="15" fill="#c8c8c8"/>
<polygon points="245,110 630,75 630,470 270,440" fill="#fff" opacity="0.1"/>
<polygon points="60,130 245,112 258,245 60,245" fill="#5a90c0" opacity="0.25"/>
<polygon points="60,245 258,245 270,440 60,415" fill="#000" opacity="0.08"/>
</g>
<g transform="translate(600,330) scale(0.06739)">
<path d="M300,55 C358,55 385,92 388,140 C400,200 480,240 515,320 C535,380 510,420 470,445 L400,492 L230,492 C150,462 108,400 125,345 C145,280 222,240 220,180 C214,100 244,55 300,55 Z" fill="#1a1a1a"/>
<path d="M300,60 C350,60 375,90 378,130 C340,120 270,120 225,135 C228,90 255,60 300,60 Z" fill="#3a3a3a"/>
<ellipse cx="298" cy="345" rx="121" ry="128" fill="url(#gTuxB)"/>
<path d="M245,135 C255,120 275,120 282,135" fill="none" stroke="#fff" stroke-width="14"/>
<path d="M320,130 C330,117 350,117 358,132" fill="none" stroke="#fff" stroke-width="14"/>
<path d="M225,180 C240,150 290,140 300,145 C320,140 360,160 365,185 C340,218 260,218 225,180 Z" fill="url(#gTuxY)"/>
<path d="M40,425 C55,380 110,368 140,370 C190,380 240,440 252,470 C252,505 200,508 150,505 C100,503 48,482 40,425 Z" fill="url(#gTuxY)"/>
<path d="M390,400 C400,368 440,358 480,370 C530,390 582,420 582,442 C562,482 500,508 430,508 C390,492 385,440 390,400 Z" fill="url(#gTuxY)"/>
</g>
<g transform="translate(604,402) scale(0.06386)">
<path d="M115,85 C180,60 300,50 400,80 L385,270 C300,258 200,268 90,300 Z" fill="url(#gWR)"/>
<path d="M400,80 C470,92 560,72 622,75 L597,265 C530,282 440,278 385,270 Z" fill="url(#gWG)"/>
<path d="M90,300 C200,270 300,265 375,285 L350,462 C270,450 150,470 55,502 Z" fill="url(#gWB)"/>
<path d="M375,285 C450,292 530,292 592,280 L567,452 C480,467 400,472 350,462 Z" fill="url(#gWY)"/>
<path d="M125,150 C200,130 300,125 395,140 L392,180 C300,170 200,175 120,195 Z" fill="#fff" opacity="0.25"/>
<path d="M100,340 C200,318 300,312 372,325 L369,360 C300,350 200,355 95,380 Z" fill="#fff" opacity="0.22"/>
</g>
<g transform="translate(600,480) scale(0.06734)">
<path d="M225,45 L262,100" stroke="#9ac820" stroke-width="16" stroke-linecap="round"/>
<path d="M440,80 L412,112" stroke="#9ac820" stroke-width="16" stroke-linecap="round"/>
<rect x="70" y="180" width="58" height="165" rx="29" fill="url(#gAnd)"/>
<rect x="490" y="250" width="62" height="172" rx="31" fill="url(#gAnd)"/>
<rect x="180" y="400" width="95" height="85" rx="40" fill="#86b810"/>
<rect x="340" y="410" width="100" height="120" rx="45" fill="#86b810"/>
<path d="M118,254 L495,254 L495,400 C495,440 460,455 420,455 L190,455 C150,455 118,440 118,400 Z" fill="url(#gAndB)"/>
<path d="M118,246 C122,150 215,92 320,95 C425,98 500,160 500,246 Z" fill="url(#gAndH)"/>
<path d="M118,244 L500,244 L499,256 L118,256 Z" fill="#5a8a08" opacity="0.8"/>
<circle cx="165" cy="180" r="15" fill="#1a2a00"/><circle cx="315" cy="210" r="15" fill="#1a2a00"/>
<rect x="250" y="290" width="130" height="80" fill="#fff" opacity="0.15"/><rect x="125" y="265" width="365" height="35" fill="#fff" opacity="0.12"/>
</g>
</svg>
<div class="t" style="left:13px;top:18.5px;font-size:33px;letter-spacing:0.7px;font-weight:bold;-webkit-text-stroke:0.9px #000;color:#000">网络拓扑图</div>
<div class="t" style="left:36px;top:318px;font-size:15px">外部系统</div>
<div class="t" style="left:205px;top:232px;font-size:15px">接口</div>
<div class="t" style="left:196.5px;top:251px;font-size:15px;letter-spacing:0.9px">服务器</div>
<div class="t" style="left:257px;top:232px;font-size:15px">WEB</div>
<div class="t" style="left:249px;top:251px;font-size:15px;letter-spacing:0.9px">服务器</div>
<div class="t" style="left:310px;top:232px;font-size:15px">文件</div>
<div class="t" style="left:302px;top:251px;font-size:15px;letter-spacing:0.9px">服务器</div>
<div class="t" style="left:255px;top:327px;font-size:15px">MYSQL数据库</div>
<div class="t" style="left:404px;top:178px;font-size:15px;letter-spacing:0.7px">管理员电脑</div>
<div class="t" style="left:501px;top:169px;font-size:15px;letter-spacing:0.8px">合作客户</div>
<div class="t" style="left:439.3px;top:264px;font-size:19.2px;color:#111">LAN/WLAN</div>
<div class="t" style="left:446px;top:285px;font-size:19.2px;letter-spacing:0.5px;color:#111">/WAN/3G</div>
<div class="t" style="left:605px;top:366px;font-size:15px">Linux</div>
<div class="t" style="left:587px;top:439px;font-size:15px;letter-spacing:0.75px">Windows</div>
<div class="t" style="left:593.5px;top:516px;font-size:15px;letter-spacing:1.4px">Android</div>
<div class="t" style="left:276px;top:483px;font-size:15px;letter-spacing:0.8px">媒体传输</div>
<div class="t" style="left:276px;top:506px;font-size:15px;letter-spacing:0.8px">内容编排</div>
</body></html>
